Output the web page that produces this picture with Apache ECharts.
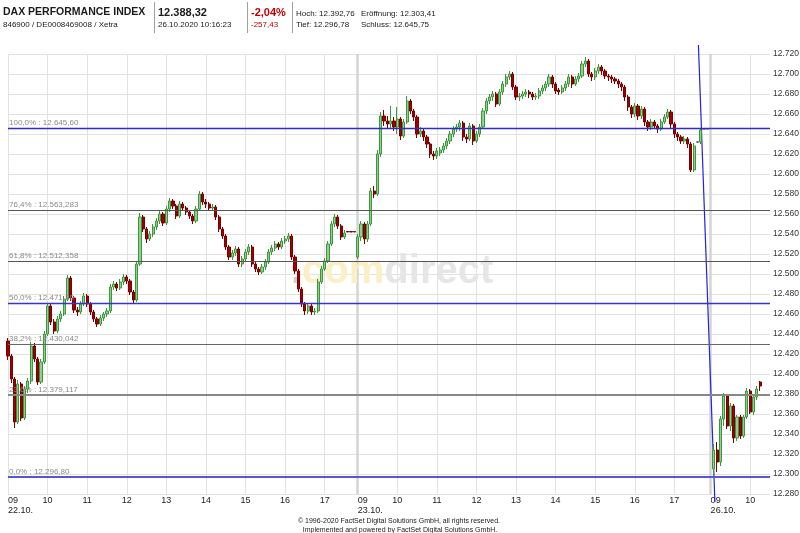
<!DOCTYPE html>
<html><head><meta charset="utf-8">
<script src="https://cdn.jsdelivr.net/npm/echarts@6/dist/echarts.min.js"></script>
<style>html,body{margin:0;padding:0;background:#fff}#c{width:800px;height:533px}</style>
</head><body><div id="c"></div>
<script>
// ---------- data ----------
const dayLabels = ['22.10.', '23.10.', '26.10.'];
const slotsPerDay = [106, 107, 19];
const yMin = 12280, yMax = 12720, yStep = 20;
const fibLevels = [12645.60, 12563.283, 12512.358, 12471.20, 12430.042, 12379.117, 12296.80];
const fibLabels = ['100,0% : 12.645,60', '76,4% : 12.563,283', '61,8% : 12.512,358', '50,0% : 12.471,20', '38,2% : 12.430,042', '23,6% : 12.379,117', '0,0% : 12.296,80'];
const trendX = [209.3, 214.3];
const trendY = [12729, 12272];
// [open, close, low, high]
const day1 = [
[12433,12418,12414,12436],[12418,12395,12391,12420],[12395,12352,12346,12397],[12352,12390,12350,12394],
[12390,12356,12353,12392],[12356,12385,12354,12388],[12385,12393,12381,12396],[12393,12428,12390,12432],
[12428,12415,12412,12431],[12415,12392,12389,12417],[12392,12412,12390,12415],[12412,12440,12410,12443],
[12440,12468,12438,12471],[12468,12452,12449,12470],[12452,12443,12440,12455],[12443,12455,12441,12458],
[12455,12460,12452,12463],[12460,12475,12458,12478],[12475,12496,12473,12499],[12496,12476,12473,12498],
[12476,12464,12461,12478],[12464,12462,12458,12467],[12462,12470,12460,12473],[12470,12478,12468,12481],
[12478,12470,12467,12480],[12470,12462,12459,12472],[12462,12455,12452,12464],[12455,12450,12447,12457],
[12450,12456,12448,12459],[12456,12460,12453,12462],[12460,12463,12457,12466],[12463,12487,12461,12490],
[12487,12490,12484,12493],[12490,12486,12483,12492],[12486,12492,12484,12495],[12492,12497,12489,12500],
[12497,12493,12490,12499],[12493,12482,12479,12495],[12482,12474,12471,12484],[12474,12510,12472,12513],
[12510,12557,12508,12561],[12557,12545,12542,12559],[12545,12535,12531,12547],[12535,12540,12533,12543],
[12540,12547,12537,12550],[12547,12553,12544,12556],[12553,12560,12550,12563],[12560,12551,12548,12562],
[12551,12565,12549,12568],[12565,12573,12562,12576],[12573,12568,12565,12575],[12568,12558,12555,12570],
[12558,12570,12556,12573],[12570,12566,12563,12572],[12566,12562,12559,12568],[12562,12558,12555,12564],
[12558,12553,12550,12560],[12553,12565,12551,12568],[12565,12580,12563,12583],[12580,12572,12569,12582],
[12572,12570,12566,12575],[12570,12566,12563,12572],[12566,12567,12563,12570],[12567,12557,12554,12569],
[12557,12545,12542,12559],[12545,12538,12535,12547],[12538,12527,12524,12540],[12527,12517,12514,12529],
[12517,12521,12514,12524],[12521,12525,12518,12528],[12525,12510,12507,12527],[12510,12515,12507,12518],
[12515,12522,12512,12525],[12522,12527,12519,12530],[12527,12510,12507,12529],[12510,12505,12502,12512],
[12505,12502,12499,12507],[12502,12507,12500,12510],[12507,12512,12504,12515],[12512,12522,12510,12525],
[12522,12526,12519,12529],[12526,12530,12523,12533],[12530,12527,12524,12532],[12527,12533,12525,12536],
[12533,12535,12530,12538],[12535,12538,12532,12541],[12538,12517,12514,12540],[12517,12503,12500,12519],
[12503,12485,12482,12505],[12485,12470,12467,12487],[12470,12463,12459,12472],[12463,12468,12460,12471],
[12468,12462,12459,12470],[12462,12463,12459,12466],[12463,12492,12461,12495],[12492,12505,12490,12508],
[12505,12513,12503,12516],[12513,12530,12511,12533],[12530,12550,12528,12553],[12550,12557,12547,12560],
[12557,12548,12545,12559],[12548,12537,12534,12550],[12537,12541,12535,12544],[12542.5,12542,12542,12542.5],
[12542.5,12542,12542,12542.5],[12542.5,12542,12542,12542.5]
];
const day2 = [
[12517,12537,12515,12540],[12537,12550,12533,12553],[12550,12535,12530,12552],[12535,12550,12532,12553],
[12550,12583,12548,12586],[12583,12580,12576,12588],[12580,12620,12578,12624],[12620,12658,12617,12662],
[12658,12653,12648,12664],[12653,12650,12645,12658],[12650,12653,12645,12668],[12653,12647,12643,12657],
[12647,12655,12640,12667],[12655,12638,12634,12657],[12638,12652,12636,12655],[12652,12673,12650,12678],
[12673,12663,12660,12675],[12663,12657,12653,12665],[12657,12640,12636,12659],[12640,12643,12637,12647],
[12643,12637,12633,12645],[12637,12630,12626,12639],[12630,12620,12616,12632],[12620,12618,12614,12623],
[12618,12623,12615,12626],[12621,12624,12618,12627],[12624,12628,12621,12631],[12628,12633,12625,12636],
[12633,12640,12630,12643],[12640,12645,12637,12648],[12645,12647,12642,12650],[12647,12651,12643,12654],
[12651,12637,12633,12653],[12637,12635,12631,12640],[12635,12648,12633,12651],[12648,12633,12629,12650],
[12633,12640,12631,12643],[12640,12647,12637,12650],[12647,12663,12645,12666],[12663,12673,12660,12676],
[12673,12677,12670,12680],[12677,12680,12673,12683],[12680,12670,12667,12682],[12670,12682,12668,12685],
[12682,12690,12679,12693],[12690,12697,12687,12700],[12697,12700,12694,12703],[12700,12687,12684,12702],
[12687,12677,12674,12689],[12677,12678,12673,12681],[12678,12680,12675,12683],[12680,12682,12677,12685],
[12682,12680,12676,12684],[12680,12677,12674,12682],[12677,12678,12674,12681],[12678,12683,12675,12686],
[12683,12686,12680,12689],[12686,12690,12683,12693],[12690,12697,12687,12700],[12697,12690,12686,12699],
[12690,12683,12680,12692],[12684,12682,12679,12686],[12682,12686,12680,12689],[12686,12690,12683,12693],
[12690,12697,12687,12700],[12697,12690,12686,12699],[12690,12695,12688,12698],[12695,12698,12692,12701],
[12698,12710,12696,12713],[12710,12713,12707,12717],[12713,12700,12697,12715],[12700,12697,12693,12702],
[12697,12703,12694,12706],[12703,12707,12700,12710],[12707,12703,12699,12709],[12703,12698,12695,12705],
[12698,12697,12693,12700],[12697,12695,12691,12699],[12695,12693,12690,12697],[12693,12690,12686,12695],
[12690,12687,12683,12692],[12687,12677,12673,12689],[12677,12667,12663,12679],[12667,12660,12656,12669],
[12660,12668,12657,12671],[12668,12658,12654,12670],[12658,12665,12655,12668],[12665,12652,12648,12667],
[12652,12647,12643,12654],[12647,12652,12644,12655],[12652,12648,12645,12654],[12648,12645,12641,12650],
[12645,12652,12643,12655],[12652,12657,12650,12660],[12657,12662,12655,12665],[12662,12650,12646,12664],
[12650,12640,12636,12652],[12640,12637,12633,12642],[12637,12633,12630,12639],[12633,12635,12630,12638],
[12635,12630,12626,12637],[12630,12604,12602,12632],[12604,12628,12602,12631],[12632,12632,12632,12632],
[12632,12644,12630,12646],[12645.5,12645,12645,12645.5],[12645.5,12645,12645,12645.5]
];
const day3 = [
'-',
[12305,12324,12297,12330],[12324,12312,12302,12332],[12312,12355,12308,12358],[12355,12378,12348,12381],
[12378,12348,12345,12380],[12348,12368,12343,12371],[12368,12336,12331,12370],[12336,12357,12333,12359],
[12357,12338,12335,12359],[12338,12357,12336,12359],[12357,12383,12355,12386],[12383,12362,12360,12385],
[12362,12377,12359,12380],[12377,12385,12374,12388],[12392,12388,12383,12393],
'-','-','-'
];

// ---------- build ----------
const categories = [];
dayLabels.forEach((d, di) => {
  for (let k = 0; k < slotsPerDay[di]; k++) {
    const m = 9 * 60 + 5 * k;
    const hh = String(Math.floor(m / 60)).padStart(2, '0');
    const mm = String(m % 60).padStart(2, '0');
    categories.push(d + ' ' + hh + ':' + mm);
  }
});
const candles = day1.concat(day2, day3);
const N = categories.length;
const isHour = v => v.slice(10, 12) === '00';
const isDayStart = v => v.slice(7) === '09:00';

const fibStyle = [
  {color: '#2c2cc6', width: 1.4}, {color: '#555', width: 1}, {color: '#555', width: 1},
  {color: '#3636cc', width: 1.4}, {color: '#666', width: 1.2}, {color: '#888', width: 2},
  {color: '#5656d4', width: 2}
];
const fibData = fibLevels.map((v, i) => ({
  yAxis: v,
  lineStyle: {color: fibStyle[i].color, width: fibStyle[i].width, type: 'solid'},
  label: {formatter: fibLabels[i]}
}));

const font = 'Arial, "Liberation Sans", sans-serif';
const fmtY = v => String(v).replace(/^(\d+)(\d{3})$/, '$1.$2');

const chart = echarts.init(document.getElementById('c'), null, {renderer: 'canvas'});
const txt = (x, y, text, size, opts) => ({
  type: 'text', x: x, y: y, z: 10,
  style: {text: text, font: (opts && opts.bold ? 'bold ' : '') + size + 'px ' + font,
    fill: (opts && opts.fill) || '#1a1a1a', textVerticalAlign: 'middle', textAlign: (opts && opts.align) || 'left'}
});
const vline = x => ({type: 'line', z: 10, shape: {x1: x, y1: 2, x2: x, y2: 33}, style: {stroke: '#a0a0a0', lineWidth: 1}});

chart.setOption({
  animation: false,
  backgroundColor: '#ffffff',
  grid: {left: 8, right: 30, top: 54, height: 440, containLabel: false, outerBoundsMode: 'none'},
  xAxis: [
    {
      type: 'category', data: categories, boundaryGap: false,
      axisLine: {show: false}, axisTick: {show: false},
      splitLine: {show: true, interval: (i, v) => isHour(v) && !(isDayStart(v) && i > 0), lineStyle: {color: '#e2e2e2', width: 1}},
      axisLabel: {
        interval: (i, v) => isHour(v) && !isDayStart(v),
        formatter: v => v.slice(7, 9), fontSize: 9, fontFamily: font, color: '#222', margin: 2, lineHeight: 10
      }
    },
    {
      type: 'category', data: categories, boundaryGap: false, position: 'bottom',
      axisLine: {show: false}, axisTick: {show: false},
      splitLine: {show: true, interval: (i, v) => isDayStart(v) && i > 0, lineStyle: {color: '#d4d4d4', width: 2.5}},
      axisLabel: {
        interval: (i, v) => isDayStart(v), align: 'left',
        formatter: v => v.slice(7, 9) + '\n' + v.slice(0, 6), fontSize: 9, fontFamily: font, color: '#222', margin: 2, lineHeight: 10
      }
    },
    {type: 'value', min: 0, max: N - 1, show: false}
  ],
  yAxis: {
    type: 'value', position: 'right', min: yMin, max: yMax, interval: yStep,
    axisLine: {show: false}, axisTick: {show: false},
    splitLine: {show: true, lineStyle: {color: '#e2e2e2', width: 1}},
    axisLabel: {formatter: fmtY, fontSize: 8.5, fontFamily: font, color: '#333', margin: 3}
  },
  series: [
    {
      type: 'line', xAxisIndex: 2, z: 1, clip: false, showSymbol: false, silent: true,
      data: trendX.map((x, i) => [x, trendY[i]]),
      lineStyle: {color: '#2424d8', width: 1.2},
      markLine: {
        silent: true, symbol: ['none', 'none'], animation: false,
        label: {position: 'insideStartTop', distance: [1, 1.5], fontSize: 8, fontFamily: font, color: '#8a8a8a'},
        data: fibData
      }
    },
    {
      type: 'candlestick', xAxisIndex: 0, z: 3, data: candles, barWidth: '80%',
      itemStyle: {color: '#8fd08f', color0: '#a00000', borderColor: '#3c963c', borderColor0: '#780000', borderWidth: 1, borderColorDoji: '#333'}
    }
  ],
  graphic: [
    {type: 'text', x: 291, y: 252, z: 1, silent: true,
      style: {text: '{d|.}{y|com}{g|direct}', rich: {
        d: {font: 'bold 40px ' + font, fill: '#cfcfcf'},
        y: {font: 'bold 40px ' + font, fill: '#fbefc6'},
        g: {font: 'bold 40px ' + font, fill: '#e6e6e6'}}}},
    txt(3, 12.5, 'DAX PERFORMANCE INDEX', 10.5, {bold: true}),
    txt(3, 24.5, '846900 / DE0008469008 / Xetra', 8),
    vline(154.5),
    txt(158, 12.5, '12.388,32', 11, {bold: true}),
    txt(158, 24.5, '26.10.2020 10:16:23', 8),
    vline(247.5),
    txt(251, 12.5, '-2,04%', 11, {bold: true, fill: '#c00000'}),
    txt(251, 24.5, '-257,43', 8, {fill: '#c00000'}),
    vline(292.5),
    txt(296, 13.5, 'Hoch: 12.392,76', 8),
    txt(361, 13.5, 'Eröffnung: 12.303,41', 8),
    txt(296, 24.5, 'Tief: 12.296,78', 8),
    txt(361, 24.5, 'Schluss: 12.645,75', 8),
    txt(399, 521, '© 1996-2020 FactSet Digital Solutions GmbH, all rights reserved.', 7, {align: 'center'}),
    txt(400, 530, 'Implemented and powered by FactSet Digital Solutions GmbH.', 7, {align: 'center'})
  ]
});
</script>
</body></html>
